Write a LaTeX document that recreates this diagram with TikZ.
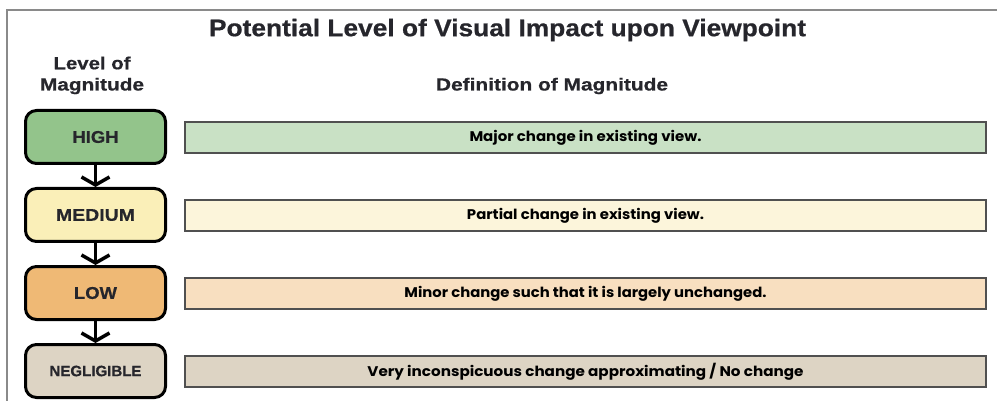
\documentclass[tikz,border=0pt]{standalone}
\usepackage{fontspec}
\setmainfont{Liberation Sans}
\newfontfamily\barfont{Poppins}
\newfontfamily\heavyfont{Liberation Sans}[UprightFont=*, BoldFont=* Bold, BoldFeatures={FakeBold=0.6}]
\usetikzlibrary{arrows.meta}
\newcommand\fitw[2]{\resizebox{#1}{\height}{#2}}
\definecolor{framegray}{HTML}{8A8A8A}
\definecolor{txtdark}{HTML}{26262C}
\definecolor{boxhigh}{HTML}{93C48B}
\definecolor{boxmed}{HTML}{FAEFB8}
\definecolor{boxlow}{HTML}{EFB975}
\definecolor{boxneg}{HTML}{DDD4C4}
\definecolor{barhigh}{HTML}{C9E1C5}
\definecolor{barmed}{HTML}{FCF5DB}
\definecolor{barlow}{HTML}{F8DFC0}
\definecolor{barneg}{HTML}{DDD4C4}
\definecolor{barline}{HTML}{505050}
\tikzset{
  lvlbox/.style={draw=black, line width=3pt, rounded corners=11pt,
    minimum width=140pt, minimum height=53pt, inner sep=0pt,
    text=txtdark, font=\heavyfont\bfseries\fontsize{17}{17}\selectfont},
  defbar/.style={draw=barline, line width=2pt, minimum width=801pt,
    minimum height=31pt, inner sep=0pt, text=black,
    font=\barfont\bfseries\fontsize{14}{14}\selectfont},
  arr/.style={line width=3.5pt, black, -{Straight Barb[length=8pt,width=28pt]}},
  hdr/.style={text=txtdark, inner sep=0pt, font=\heavyfont\bfseries\fontsize{17.5}{17.5}\selectfont},
}
\begin{document}
\begin{tikzpicture}[x=1pt,y=-1pt]
\useasboundingbox (0,0) rectangle (997,401);
\fill[white] (0,0) rectangle (997,401);
\draw[framegray, line width=2.5pt] (7,402) -- (7,10) -- (998,10);

\node[inner sep=0pt, text=txtdark, font=\heavyfont\bfseries\fontsize{24}{24}\selectfont] (title) at (507.5,30) {\fitw{597pt}{Potential Level of Visual Impact upon Viewpoint}};
\node[hdr] (lvl1) at (92,63) {\fitw{77pt}{Level of}};
\node[hdr] (lvl2) at (92,86) {\fitw{104pt}{Magnitude}};
\node[hdr] (defh) at (552,86) {\fitw{232pt}{Definition of Magnitude}};

\node[lvlbox, fill=boxhigh] (high) at (95.5,137) {\fitw{46pt}{HIGH}};
\node[lvlbox, fill=boxmed] (med) at (95.5,215) {\fitw{79pt}{MEDIUM}};
\node[lvlbox, fill=boxlow] (low) at (95.5,293) {\fitw{43pt}{LOW}};
\node[lvlbox, fill=boxneg, font=\heavyfont\bfseries\fontsize{15}{15}\selectfont] (neg) at (95.5,371) {\fitw{92pt}{NEGLIGIBLE}};

\draw[arr] (high.south) -- (med.north);
\draw[arr] (med.south) -- (low.north);
\draw[arr] (low.south) -- (neg.north);

\node[defbar, fill=barhigh] (dhigh) at (585.5,137.5) {\fitw{232pt}{Major change in existing view.}};
\node[defbar, fill=barmed] (dmed) at (585.5,215.5) {\fitw{237pt}{Partial change in existing view.}};
\node[defbar, fill=barlow] (dlow) at (585.5,293.5) {\fitw{362pt}{Minor change such that it is largely unchanged.}};
\node[defbar, fill=barneg] (dneg) at (585.5,371.5) {\fitw{436pt}{Very inconspicuous change approximating / No change}};
\end{tikzpicture}
\end{document}
